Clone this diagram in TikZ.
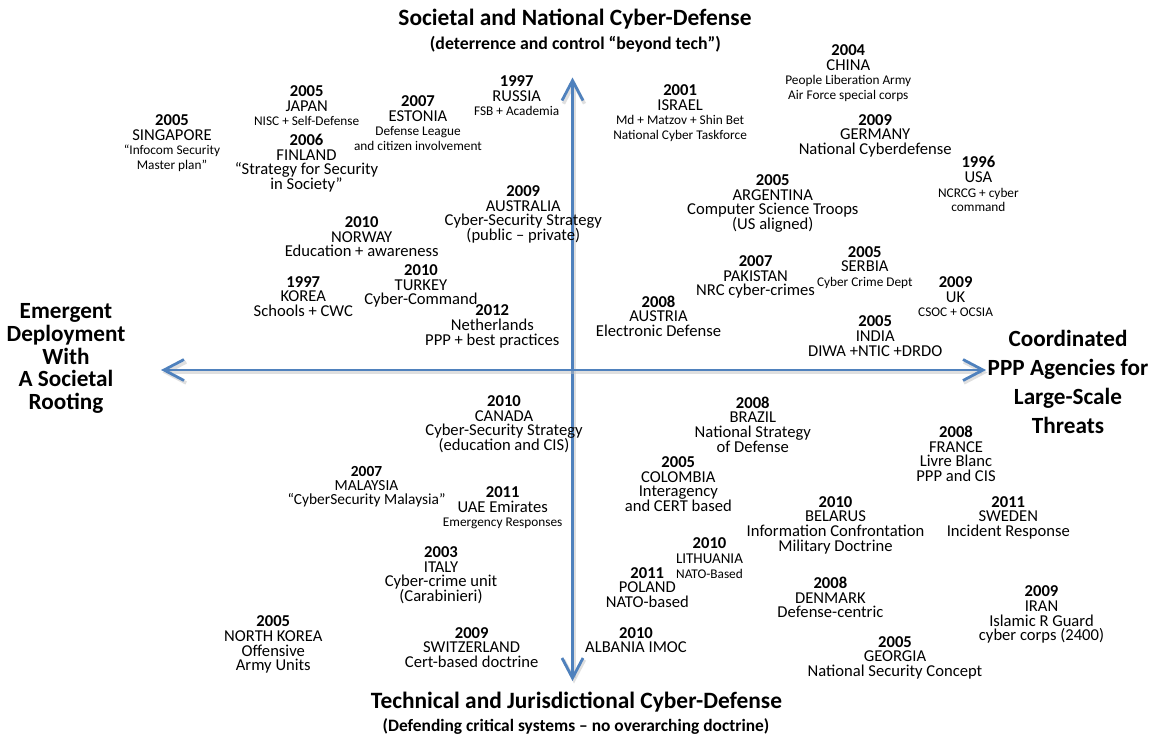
\documentclass[tikz,border=0pt]{standalone}
\usepackage{fontspec}
\setmainfont{Carlito}
\usetikzlibrary{arrows.meta}

\definecolor{axisblue}{RGB}{79,129,189}
\lineskiplimit=-\maxdimen
\newcommand\Lg{\fontsize{16.6}{14.6}\selectfont}
\newcommand\Sm{\fontsize{13.3}{14.6}\selectfont}

\begin{document}
\begin{tikzpicture}[x=1pt,y=-1pt,
  entry/.style={align=center,font=\Lg,inner sep=0pt},
  heading/.style={font=\fontsize{23.4}{26}\selectfont\bfseries,inner sep=0pt},
  subheading/.style={font=\fontsize{17.8}{20}\selectfont\bfseries,inner sep=0pt},
  pole/.style={align=center,font=\fontsize{23.2}{#1}\selectfont\bfseries,inner sep=0pt},
  barb/.tip={Straight Barb[length=20pt,width=21pt]},
  axis/.style={draw=axisblue,line width=2.8pt,barb-barb,
    preaction={draw=black!25,opacity=0.5,line width=3.4pt,
      transform canvas={xshift=1.5pt,yshift=-2.5pt}}}]

\useasboundingbox (0,0) rectangle (1163,737);

\coordinate (yt) at (572.5,77.5);
\coordinate (yb) at (572.5,681);
\coordinate (xl) at (161,370);
\coordinate (xr) at (986,370);

\draw [axis] (yb) -- (yt);
\draw [axis] (xl) -- (xr);

\node [heading] (top) at (575,19) {Societal and National Cyber-Defense};
\node [subheading] (topsub) at (575.4,44.3) {(deterrence and control “beyond tech”)};
\node [heading] (bottom) at (576.5,701.7) {Technical and Jurisdictional Cyber-Defense};
\node [subheading,font=\fontsize{17.4}{20}\selectfont\bfseries] (bottomsub) at (576,726.7) {(Defending critical systems – no overarching doctrine)};
\node [pole=22.7] (emergent) at (66,358.5) {Emergent\\Deployment\\With\\A Societal\\Rooting};
\node [pole=29] (coordinated) at (1068,381.7) {Coordinated\\PPP Agencies for\\Large-Scale\\Threats};

\node [entry] (singapore) at (172,143.2) {\textbf{2005}\\SINGAPORE\\{\Sm “Infocom Security}\\{\Sm Master plan”}};
\node [entry] (japan) at (306.7,105.7) {\textbf{2005}\\JAPAN\\{\Sm NISC + Self-Defense}};
\node [entry] (finland) at (306.5,163) {\textbf{2006}\\FINLAND\\“Strategy for Security\\in Society”};
\node [entry] (estonia) at (418,123.2) {\textbf{2007}\\ESTONIA\\{\Sm Defense League}\\{\Sm and citizen involvement}};
\node [entry] (russia) at (516.7,95.9) {\textbf{1997}\\RUSSIA\\{\Sm FSB + Academia}};
\node [entry] (china) at (848.3,73.3) {\textbf{2004}\\CHINA\\{\Sm People Liberation Army}\\{\Sm Air Force special corps}};
\node [entry] (israel) at (680.1,113.2) {\textbf{2001}\\ISRAEL\\{\Sm Md + Matzov + Shin Bet}\\{\Sm National Cyber Taskforce}};
\node [entry] (germany) at (875.2,135.7) {\textbf{2009}\\GERMANY\\National Cyberdefense};
\node [entry] (usa) at (978.4,184.2) {\textbf{1996}\\USA\\{\Sm NCRCG + cyber}\\{\Sm command}};
\node [entry] (argentina) at (772.8,203.3) {\textbf{2005}\\ARGENTINA\\Computer Science Troops\\(US aligned)};
\node [entry] (australia) at (523.3,214.2) {\textbf{2009}\\AUSTRALIA\\Cyber-Security Strategy\\(public – private)};
\node [entry] (norway) at (361.7,236.7) {\textbf{2010}\\NORWAY\\Education + awareness};
\node [entry] (turkey) at (421,286.2) {\textbf{2010}\\TURKEY\\Cyber-Command};
\node [entry] (korea) at (303.3,296.3) {\textbf{1997}\\KOREA\\Schools + CWC};
\node [entry] (netherlands) at (492.3,326.3) {\textbf{2012}\\Netherlands\\PPP + best practices};
\node [entry] (pakistan) at (755.6,277) {\textbf{2007}\\PAKISTAN\\NRC cyber-crimes};
\node [entry] (serbia) at (864.8,267.3) {\textbf{2005}\\SERBIA\\{\Sm Cyber Crime Dept}};
\node [entry] (uk) at (955.6,296.8) {\textbf{2009}\\UK\\{\Sm CSOC + OCSIA}};
\node [entry] (austria) at (658.5,316.3) {\textbf{2008}\\AUSTRIA\\Electronic Defense};
\node [entry] (india) at (875.2,336.2) {\textbf{2005}\\INDIA\\DIWA +NTIC +DRDO};

\node [entry] (canada) at (504,424.2) {\textbf{2010}\\CANADA\\Cyber-Security Strategy\\(education and CIS)};
\node [entry] (brazil) at (752.8,424.5) {\textbf{2008}\\BRAZIL\\National Strategy\\of Defense};
\node [entry,font=\fontsize{15.4}{14.2}\selectfont] (malaysia) at (366.5,486.5) {\textbf{2007}\\MALAYSIA\\“CyberSecurity Malaysia”};
\node [entry] (uae) at (502.7,507.7) {\textbf{2011}\\UAE Emirates\\{\Sm Emergency Responses}};
\node [entry] (colombia) at (678.3,484.2) {\textbf{2005}\\COLOMBIA\\Interagency\\and CERT based};
\node [entry] (france) at (956,453.8) {\textbf{2008}\\FRANCE\\Livre Blanc\\PPP and CIS};
\node [entry] (belarus) at (835.5,525) {\textbf{2010}\\BELARUS\\Information Confrontation\\Military Doctrine};
\node [entry] (sweden) at (1008.3,517.5) {\textbf{2011}\\SWEDEN\\Incident Response};
\node [entry] (italy) at (441,575) {\textbf{2003}\\ITALY\\Cyber-crime unit\\(Carabinieri)};
\node [entry] (northkorea) at (273.3,644.7) {\textbf{2005}\\NORTH KOREA\\Offensive\\Army Units};
\node [entry] (switzerland) at (471.7,647.5) {\textbf{2009}\\SWITZERLAND\\Cert-based doctrine};
\node [entry] (lithuania) at (709.5,558) {\textbf{2010}\\{\fontsize{15}{14.6}\selectfont LITHUANIA}\\{\Sm NATO-Based}};
\node [entry] (poland) at (647.3,587.3) {\textbf{2011}\\POLAND\\NATO-based};
\node [entry] (albania) at (636,640.2) {\textbf{2010}\\ALBANIA IMOC};
\node [entry] (denmark) at (830.4,597.5) {\textbf{2008}\\DENMARK\\Defense-centric};
\node [entry] (iran) at (1041.5,614.7) {\textbf{2009}\\IRAN\\Islamic R Guard\\cyber corps (2400)};
\node [entry] (georgia) at (895,657.8) {\textbf{2005}\\GEORGIA\\National Security Concept};

\end{tikzpicture}
\end{document}
